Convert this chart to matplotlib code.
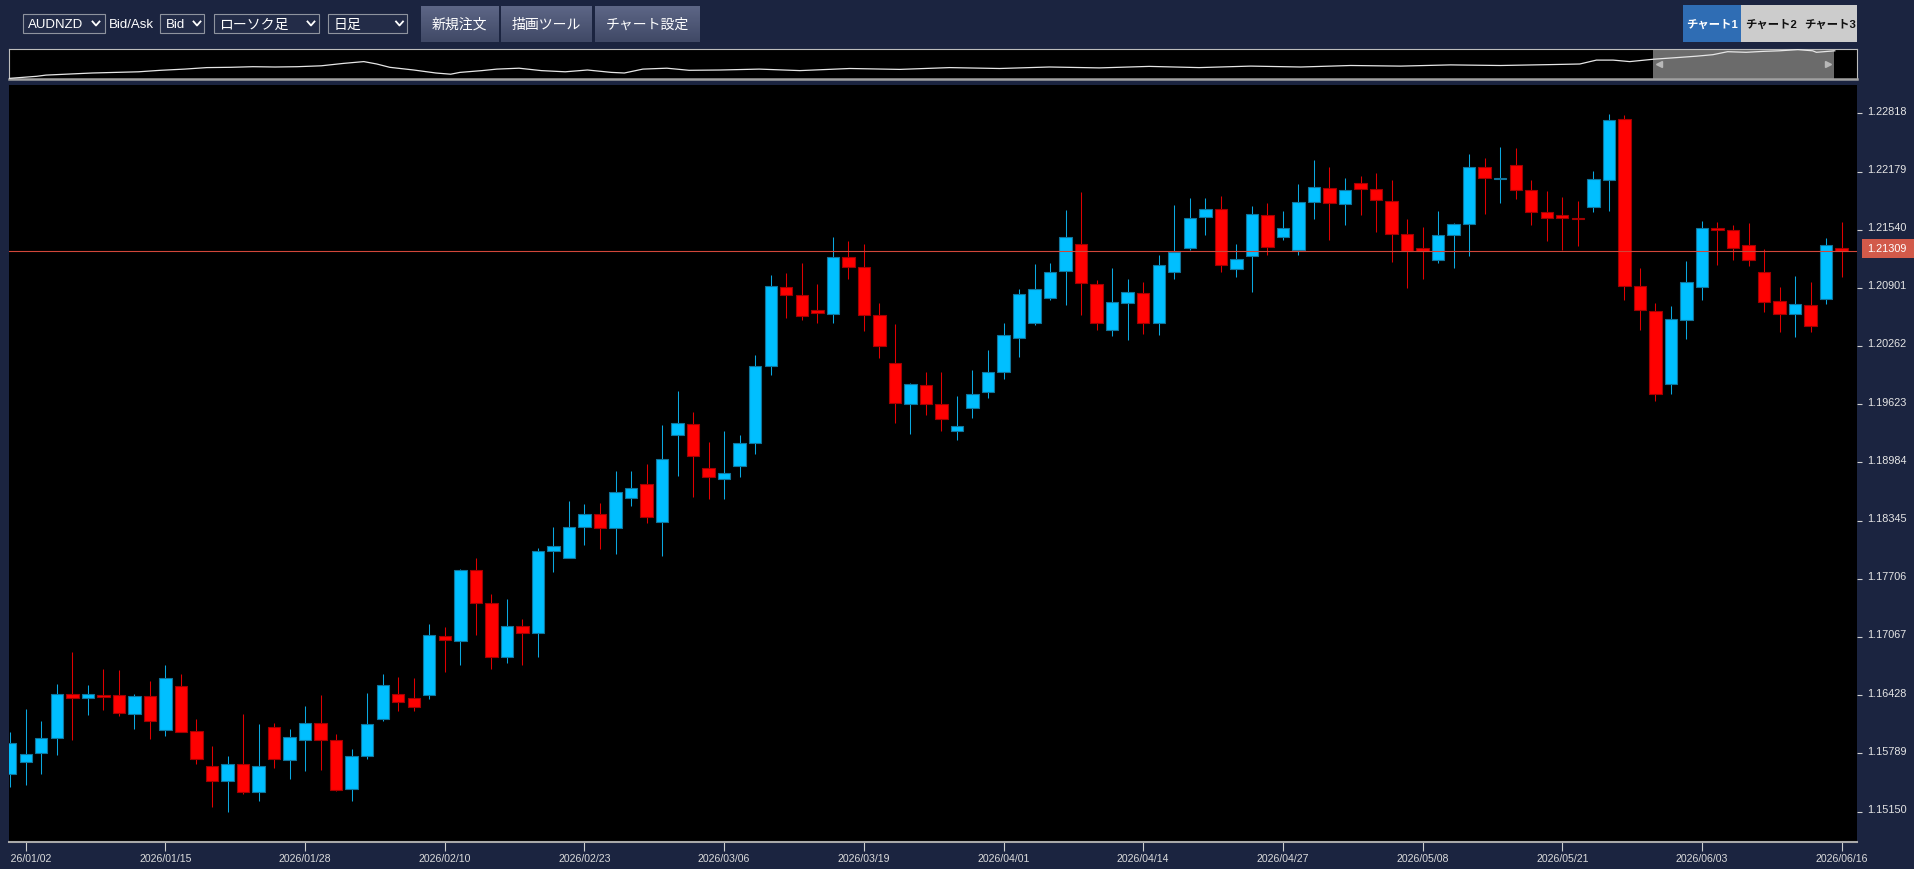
import numpy as np
import pandas as pd

import matplotlib

matplotlib.use("Agg")
import matplotlib.pyplot as plt
from matplotlib.patches import Rectangle
from matplotlib.lines import Line2D
from matplotlib.colors import LinearSegmentedColormap
from matplotlib.transforms import (blended_transform_factory, ScaledTranslation,
                                   Bbox, TransformedBbox)

plt.rcParams["font.family"] = ["Liberation Sans", "Noto Sans CJK JP", "DejaVu Sans"]

W, H = 1915, 870
BG = "#1b2440"
UP_FILL, UP_EDGE, UP_WICK = "#00bfff", "#11759c", "#0aa8e0"
DN_FILL, DN_EDGE, DN_WICK = "#ff0000", "#a30000", "#e00000"

SYMBOL = "AUDNZD"
CURRENT = 1.21309
YTICKS = [1.15150, 1.15789, 1.16428, 1.17067, 1.17706, 1.18345, 1.18984,
          1.19623, 1.20262, 1.20901, 1.21540, 1.22179, 1.22818]
TICK_DATES = ["2026/01/02", "2026/01/15", "2026/01/28", "2026/02/10", "2026/02/23",
              "2026/03/06", "2026/03/19", "2026/04/01", "2026/04/14", "2026/04/27",
              "2026/05/08", "2026/05/21", "2026/06/03", "2026/06/16"]

OPEN = [1.15558, 1.15690, 1.15789, 1.15954, 1.16437, 1.16393, 1.16429, 1.16433, 1.16221, 1.16415,
        1.16042, 1.16525, 1.16037, 1.15650, 1.15481, 1.15668, 1.15364, 1.16075, 1.15719, 1.15932,
        1.16125, 1.15935, 1.15397, 1.15759, 1.16166, 1.16437, 1.16402, 1.16433, 1.17078, 1.17026,
        1.17799, 1.17440, 1.16844, 1.17184, 1.17111, 1.18015, 1.17934, 1.18272, 1.18414, 1.18267,
        1.18590, 1.18744, 1.18333, 1.19289, 1.19406, 1.18920, 1.18806, 1.18948, 1.19194, 1.20040,
        1.20911, 1.20823, 1.20659, 1.20618, 1.21241, 1.21128, 1.20604, 1.20073, 1.19629, 1.19835,
        1.19623, 1.19329, 1.19582, 1.19755, 1.19981, 1.20348, 1.20516, 1.20787, 1.21090, 1.21380,
        1.20944, 1.20439, 1.20739, 1.20849, 1.20513, 1.21073, 1.21343, 1.21677, 1.21765, 1.21109,
        1.21249, 1.21699, 1.21464, 1.21315, 1.21842, 1.21996, 1.21826, 1.22054, 1.21985, 1.21853,
        1.21490, 1.21340, 1.21211, 1.21483, 1.21607, 1.22233, 1.22102, 1.22252, 1.21974, 1.21732,
        1.21699, 1.21673, 1.21793, 1.22090, 1.22754, 1.20922, 1.20648, 1.19846, 1.20549, 1.20915,
        1.21559, 1.21534, 1.21369, 1.21073, 1.20758, 1.20615, 1.20714, 1.20780, 1.21343]
HIGH = [1.16026, 1.16276, 1.16144, 1.16547, 1.16899, 1.16539, 1.16715, 1.16704, 1.16440, 1.16583,
        1.16759, 1.16660, 1.16162, 1.15869, 1.15756, 1.16221, 1.16111, 1.16122, 1.16053, 1.16309,
        1.16433, 1.16001, 1.15836, 1.16451, 1.16663, 1.16627, 1.16616, 1.17206, 1.17180, 1.17814,
        1.17934, 1.17536, 1.17484, 1.17268, 1.18041, 1.18275, 1.18561, 1.18524, 1.18535, 1.18890,
        1.18890, 1.18964, 1.19395, 1.19769, 1.19538, 1.19209, 1.19326, 1.19285, 1.20168, 1.21043,
        1.21065, 1.21175, 1.20944, 1.21461, 1.21413, 1.21387, 1.20736, 1.20505, 1.19860, 1.19974,
        1.19981, 1.19714, 1.20003, 1.20216, 1.20516, 1.20886, 1.21164, 1.21175, 1.21757, 1.21955,
        1.20988, 1.21120, 1.20999, 1.20970, 1.21263, 1.21812, 1.21892, 1.21889, 1.21911, 1.21384,
        1.21801, 1.21834, 1.21746, 1.22043, 1.22310, 1.22230, 1.22109, 1.22134, 1.22167, 1.22087,
        1.21658, 1.21574, 1.21746, 1.21614, 1.22372, 1.22325, 1.22446, 1.22438, 1.22087, 1.21966,
        1.21900, 1.21856, 1.22182, 1.22812, 1.22801, 1.21123, 1.20736, 1.20699, 1.21197, 1.21636,
        1.21625, 1.21593, 1.21614, 1.21329, 1.20911, 1.21032, 1.20966, 1.21453, 1.21629]
LOW = [1.15422, 1.15444, 1.15562, 1.15770, 1.15938, 1.16213, 1.16265, 1.16195, 1.16053, 1.15943,
       1.15976, 1.16023, 1.15668, 1.15202, 1.15147, 1.15342, 1.15268, 1.15628, 1.15510, 1.15598,
       1.15609, 1.15375, 1.15265, 1.15726, 1.16144, 1.16254, 1.16254, 1.16385, 1.16685, 1.16756,
       1.17092, 1.16718, 1.16784, 1.16762, 1.16850, 1.17784, 1.17931, 1.18077, 1.18037, 1.17978,
       1.18506, 1.18319, 1.17956, 1.18839, 1.18605, 1.18583, 1.18583, 1.18824, 1.19077, 1.19948,
       1.20567, 1.20552, 1.20513, 1.20519, 1.20996, 1.20425, 1.20131, 1.19421, 1.19300, 1.19508,
       1.19326, 1.19234, 1.19472, 1.19692, 1.19901, 1.20146, 1.20497, 1.20769, 1.20717, 1.20607,
       1.20439, 1.20376, 1.20332, 1.20392, 1.20387, 1.20999, 1.21321, 1.21486, 1.21076, 1.21018,
       1.20853, 1.21266, 1.21431, 1.21266, 1.21655, 1.21428, 1.21593, 1.21702, 1.21516, 1.21183,
       1.20904, 1.20999, 1.21178, 1.21123, 1.21255, 1.21713, 1.21837, 1.21881, 1.21589, 1.21413,
       1.21321, 1.21358, 1.21738, 1.21746, 1.20769, 1.20442, 1.19662, 1.19739, 1.20343, 1.20765,
       1.21150, 1.21211, 1.21145, 1.20640, 1.20414, 1.20365, 1.20414, 1.20728, 1.21025]
CLOSE = [1.15899, 1.15781, 1.15954, 1.16444, 1.16397, 1.16444, 1.16411, 1.16235, 1.16415, 1.16140,
         1.16613, 1.16023, 1.15730, 1.15481, 1.15668, 1.15364, 1.15646, 1.15723, 1.15965, 1.16125,
         1.15938, 1.15386, 1.15759, 1.16111, 1.16536, 1.16352, 1.16298, 1.17085, 1.17034, 1.17803,
         1.17437, 1.16844, 1.17184, 1.17114, 1.18015, 1.18070, 1.18272, 1.18421, 1.18267, 1.18656,
         1.18703, 1.18388, 1.19019, 1.19421, 1.19052, 1.18821, 1.18871, 1.19194, 1.20040, 1.20919,
         1.20827, 1.20596, 1.20622, 1.21244, 1.21134, 1.20607, 1.20263, 1.19634, 1.19842, 1.19626,
         1.19458, 1.19381, 1.19741, 1.19972, 1.20381, 1.20834, 1.20893, 1.21073, 1.21464, 1.20952,
         1.20516, 1.20743, 1.20853, 1.20516, 1.21150, 1.21299, 1.21673, 1.21771, 1.21156, 1.21222,
         1.21710, 1.21347, 1.21556, 1.21842, 1.22007, 1.21834, 1.21974, 1.21991, 1.21870, 1.21494,
         1.21307, 1.21301, 1.21486, 1.21603, 1.22233, 1.22109, 1.22109, 1.21980, 1.21738, 1.21673,
         1.21673, 1.21662, 1.22098, 1.22742, 1.20919, 1.20659, 1.19733, 1.20563, 1.20963, 1.21556,
         1.21541, 1.21340, 1.21205, 1.20750, 1.20611, 1.20728, 1.20480, 1.21376, 1.21309]

# overview strip (whole history, 0..1 along / 0..1 height)
NAV_POS = [0.000, 0.015, 0.020, 0.045, 0.070, 0.082, 0.095, 0.107, 0.120, 0.132,
           0.144, 0.156, 0.169, 0.181, 0.192, 0.199, 0.206, 0.219, 0.231, 0.239,
           0.244, 0.256, 0.264, 0.276, 0.288, 0.301, 0.313, 0.326, 0.333, 0.343,
           0.356, 0.368, 0.385, 0.406, 0.428, 0.455, 0.482, 0.509, 0.536, 0.563,
           0.590, 0.617, 0.644, 0.672, 0.699, 0.726, 0.753, 0.780, 0.807, 0.834,
           0.850, 0.859, 0.868, 0.877, 0.890, 0.904, 0.913, 0.922, 0.930, 0.940,
           0.949, 0.958, 0.968, 0.976, 0.978, 0.982, 0.988]
NAV_LEVEL = [0.02, 0.09, 0.13, 0.20, 0.24, 0.29, 0.33, 0.38, 0.39, 0.41,
             0.40, 0.41, 0.44, 0.52, 0.58, 0.50, 0.39, 0.30, 0.20, 0.16,
             0.22, 0.28, 0.33, 0.36, 0.28, 0.24, 0.30, 0.22, 0.20, 0.33,
             0.36, 0.29, 0.30, 0.33, 0.28, 0.35, 0.32, 0.38, 0.35, 0.40,
             0.37, 0.42, 0.38, 0.43, 0.40, 0.45, 0.43, 0.47, 0.45, 0.48,
             0.50, 0.63, 0.63, 0.58, 0.66, 0.72, 0.76, 0.81, 0.91, 0.89,
             0.92, 0.94, 0.98, 0.94, 0.89, 0.91, 0.94]


def fx(px):
    return px / W


def fy(py):  # pixel from top -> figure fraction
    return 1 - py / H


def fig_rect(x0, y0, x1, y1, **kw):
    fig.add_artist(Rectangle((fx(x0), fy(y1)), fx(x1 - x0), (y1 - y0) / H,
                             transform=fig.transFigure, **kw))


def dropdown(x0, x1, text, tx, cx, size):
    fig_rect(x0, 15, x1, 34, facecolor="#232c48", edgecolor="#8e939e", lw=0.8)
    fig.text(fx(tx), fy(25), text, color="white", fontsize=size, va="center", ha="left")
    fig.add_artist(Line2D([fx(cx - 3.5), fx(cx), fx(cx + 3.5)], [fy(22.5), fy(26.5), fy(22.5)],
                          transform=fig.transFigure, color="white", lw=1.3))


BTN_CMAP = LinearSegmentedColormap.from_list("btn", ["#5d6686", "#404966"])


def button(x0, x1, text):
    bax = fig.add_axes([fx(x0), fy(43), fx(x1 - x0), 36 / H])
    bax.imshow(np.linspace(0, 1, 64).reshape(-1, 1), aspect="auto", cmap=BTN_CMAP,
               extent=(0, 1, 0, 1))
    bax.set_axis_off()
    bax.text(0.5, 0.5, text, color="white", fontsize=10, ha="center", va="center",
             transform=bax.transAxes)


fig = plt.figure(figsize=(W / 100, H / 100), dpi=100, facecolor=BG)

# toolbar
dropdown(23, 105, SYMBOL, 27.5, 96, 9.5)
fig.text(fx(109), fy(25), "Bid/Ask", color="white", fontsize=9.5, va="center", ha="left")
dropdown(160, 204, "Bid", 166, 197, 9.5)
dropdown(214, 319, "ローソク足", 219.5, 311, 10)
dropdown(328, 407, "日足", 334, 399.5, 10)
button(421, 498, "新規注文")
button(501, 592, "描画ツール")
button(595, 699, "チャート設定")

fig_rect(1683, 6, 1741, 43, facecolor="#2f6db4", edgecolor="none")
fig_rect(1741, 6, 1857, 43, facecolor="#cccccc", edgecolor="none")
fig.text(fx(1712), fy(25), "チャート1", color="white", fontsize=8.2, fontweight="bold",
         ha="center", va="center")
fig.text(fx(1771.5), fy(25), "チャート2", color="#111111", fontsize=8.2, fontweight="bold",
         ha="center", va="center")
fig.text(fx(1829.5), fy(25), "チャート3", color="#111111", fontsize=8.2, fontweight="bold",
         ha="center", va="center")

# navigator strip
nav = fig.add_axes([fx(9), fy(80), fx(1848), 30 / H])
nav.set_facecolor("black")
nav.set_xlim(0, 1); nav.set_ylim(0, 1)
nav.set_xticks([]); nav.set_yticks([])
for side in ("top", "left", "right"):
    nav.spines[side].set_color("#bdbdbd"); nav.spines[side].set_linewidth(0.8)
nav.spines["bottom"].set_color("#a0a0a0"); nav.spines["bottom"].set_linewidth(1.8)
nav.add_patch(Rectangle((0.8896, 0), 0.098, 1, facecolor="#6b6b6b", edgecolor="none", zorder=1))
n = min(len(NAV_POS), len(NAV_LEVEL))
nav.plot(NAV_POS[:n], NAV_LEVEL[:n], color="#e6e6e6", lw=0.9, zorder=3)
nav.plot([0.8926], [0.5], marker="<", ms=4, color="#b8b8b8", zorder=2)
nav.plot([0.9843], [0.5], marker=">", ms=4, color="#b8b8b8", zorder=2)

# main candle chart
ax = fig.add_axes([fx(9), fy(843), fx(1848), 757 / H])
ax.set_facecolor("black")

o = np.array(OPEN); h = np.array(HIGH); lo = np.array(LOW); c = np.array(CLOSE)
x = np.arange(len(o))
up = c >= o
ax.vlines(x, lo, h, colors=np.where(up, UP_WICK, DN_WICK), lw=0.75, zorder=2)
ax.bar(x, np.abs(c - o), bottom=np.minimum(o, c), width=0.8,
       color=np.where(up, UP_FILL, DN_FILL), edgecolor=np.where(up, UP_EDGE, DN_EDGE),
       linewidth=0.8, zorder=3)

ax.axhline(CURRENT, color="#d2473a", lw=0.8, zorder=4)

dates = pd.bdate_range("2025-12-31", "2026-06-16")
dates = dates[dates != pd.Timestamp("2026-01-01")]
labels = list(dates.strftime("%Y/%m/%d"))
tick_pos = [labels.index(t) for t in TICK_DATES]

ax.set_xticks(tick_pos)
ax.set_xticklabels(TICK_DATES)
ax.tick_params(axis="x", direction="out", length=6.5, width=0.8, color="#d0d0d0",
               labelcolor="#dcdcdc", labelsize=7.6, pad=1.5)
first = ax.get_xticklabels()[0]
first.set_clip_on(True)
first.set_clip_box(TransformedBbox(Bbox([[fx(10.5), 0], [1, 1]]), fig.transFigure))

ax.yaxis.set_ticks_position("right")
ax.set_yticks(YTICKS)
ax.tick_params(axis="y", direction="out", length=3.3, width=0.8, color="#d0d0d0",
               labelright=False, labelleft=False)

for side in ("top", "left", "right"):
    ax.spines[side].set_visible(False)
ax.spines["bottom"].set_color("#a9a9a9")
ax.spines["bottom"].set_linewidth(1.5)

ax.set_xlim(-0.08, 118.99)
ax.set_ylim(1.14816, 1.23129)

lab_trans = blended_transform_factory(ax.transAxes, ax.transData) + \
    ScaledTranslation(0.097, 0.026, fig.dpi_scale_trans)
for v in YTICKS:
    ax.text(1.0, v, f"{v:.5f}", transform=lab_trans, ha="left", va="center",
            color="#e6e6e6", fontsize=7.8, clip_on=False)

# current price tag
cy = ax.transData.transform((0, CURRENT))[1] + 2.6
ax.add_patch(Rectangle((fx(1862), (cy - 9.5) / H), fx(53), 19 / H, transform=fig.transFigure,
                       facecolor="#d25a4a", edgecolor="none", clip_on=False, zorder=5))
ax.text(1.0, CURRENT, f"{CURRENT:.5f}", transform=lab_trans, ha="left", va="center",
        color="white", fontsize=7.8, clip_on=False, zorder=6)
ax.set_xlim(-0.08, 118.99)
ax.set_ylim(1.14816, 1.23129)

fig.savefig("out.png", dpi=100, facecolor=BG)
plt.close(fig)
